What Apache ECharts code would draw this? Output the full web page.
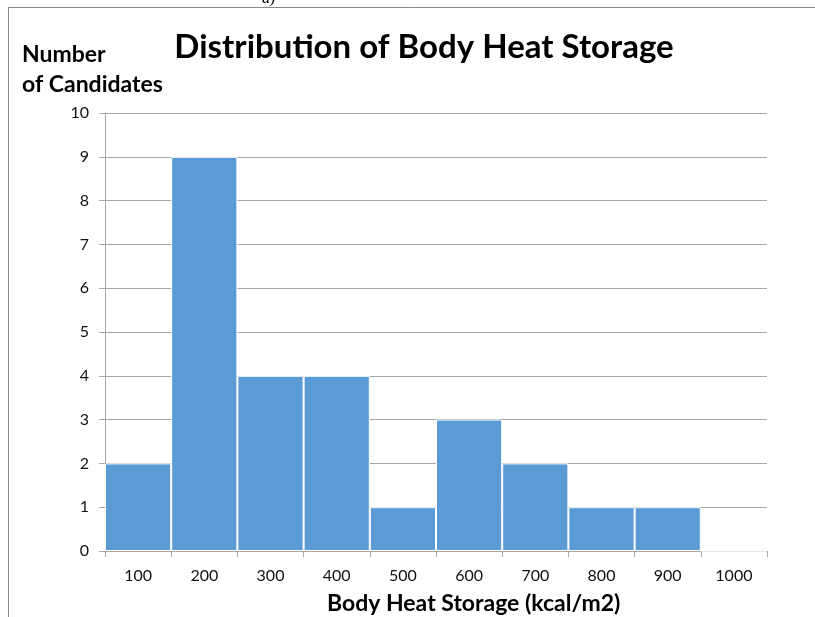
<!DOCTYPE html>
<html>
<head>
<meta charset="utf-8">
<script src="https://cdn.jsdelivr.net/npm/echarts@6/dist/echarts.min.js"></script>
<style>
  html, body { margin: 0; padding: 0; background: #fff; }
  #chart { width: 815px; height: 617px; }
</style>
</head>
<body>
<div id="chart"></div>
<script>
// histogram bins and counts
var bins = ['100', '200', '300', '400', '500', '600', '700', '800', '900', '1000'];
var counts = [2, 9, 4, 4, 1, 3, 2, 1, 1, 0];
var yTicks = [0, 10, 1];   // min, max, step

var dom = document.getElementById('chart');
var myChart = echarts.init(dom);

var option = {
    animation: false,
    backgroundColor: '#fff',
    title: {
        text: 'Distribution of Body Heat Storage',
        left: 419,
        top: 26,
        textAlign: 'center',
        textStyle: {
            fontFamily: 'Lato',
            fontWeight: 'bold',
            fontSize: 33,
            color: '#000'
        }
    },
    grid: {
        left: 105,
        right: 48,
        top: 113,
        bottom: 66
    },
    xAxis: {
        type: 'category',
        data: bins,
        axisLine: { lineStyle: { color: '#a6a6a6', width: 1 } },
        axisTick: { show: true, length: 6, lineStyle: { color: '#a6a6a6' } },
        axisLabel: {
            margin: 17,
            fontFamily: 'Lato',
            fontSize: 16,
            color: '#111'
        }
    },
    yAxis: {
        type: 'value',
        min: yTicks[0],
        max: yTicks[1],
        interval: yTicks[2],
        axisLine: { show: true, lineStyle: { color: '#a6a6a6' } },
        axisTick: { show: true, length: 6, lineStyle: { color: '#a6a6a6' } },
        splitLine: { lineStyle: { color: '#a6a6a6' } },
        axisLabel: {
            margin: 16,
            fontFamily: 'Lato',
            fontSize: 16,
            color: '#111'
        }
    },
    graphic: [
        // outer frame (top + left edge of the figure box)
        { type: 'line', shape: { x1: 8, y1: 7.5, x2: 815, y2: 7.5 }, style: { stroke: '#888', lineWidth: 1 } },
        { type: 'line', shape: { x1: 8.5, y1: 7, x2: 8.5, y2: 617 }, style: { stroke: '#888', lineWidth: 1 } },
        { type: 'text', left: 262, top: -9, style: { text: 'a)', font: 'italic 16px "Liberation Serif"', fill: '#000' } },
        { type: 'text', left: 22, top: 43, style: { text: 'Number', font: 'bold 23px Lato', fill: '#000' } },
        { type: 'text', left: 22, top: 73, style: { text: 'of Candidates', font: 'bold 23px Lato', fill: '#000' } },
        { type: 'text', left: 327, top: 592, style: { text: 'Body Heat Storage (kcal/m2)', font: 'bold 23px Lato', fill: '#000' } }
    ],
    series: [{
        type: 'bar',
        data: counts,
        barCategoryGap: '0%',
        itemStyle: {
            color: '#5b9bd5',
            borderColor: '#fff',
            borderWidth: 1
        }
    }]
};

myChart.setOption(option);
</script>
</body>
</html>
